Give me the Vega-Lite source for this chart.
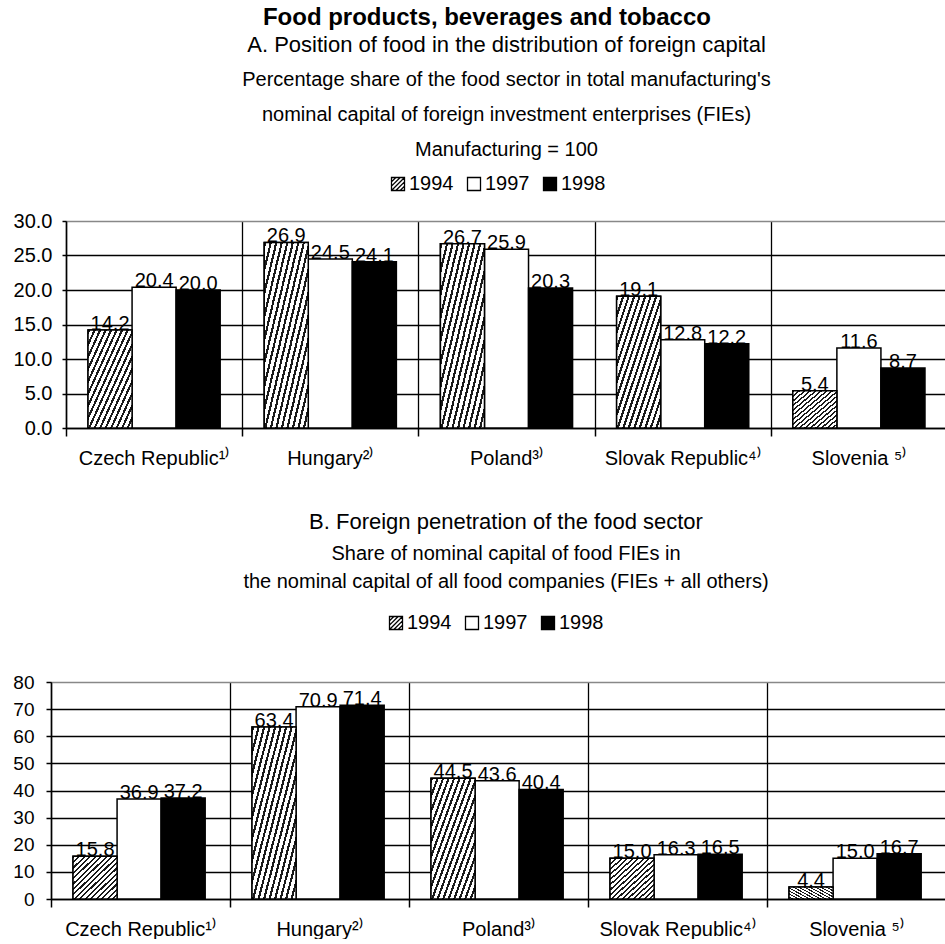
{
  "$schema": "https://vega.github.io/schema/vega-lite/v6.json",
  "padding": {"left": 12, "top": 6, "right": 0, "bottom": 0},
  "background": "white",
  "title": {
    "text": "Food products, beverages and tobacco",
    "font": "Liberation Sans, Arial",
    "fontSize": 24,
    "fontWeight": "bold",
    "color": "black",
    "anchor": "middle",
    "offset": 4
  },
  "config": {
    "view": {"stroke": null},
    "font": "Liberation Sans, Arial",
    "axis": {
      "labelFont": "Liberation Sans, Arial",
      "labelColor": "black",
      "domainColor": "black",
      "tickColor": "black",
      "gridColor": "black",
      "domainWidth": 1.5,
      "tickWidth": 1.5,
      "gridWidth": 1.3,
      "gridOpacity": 1,
      "title": null
    },
    "legend": {
      "labelFont": "Liberation Sans, Arial",
      "labelColor": "black",
      "labelFontSize": 20,
      "symbolSize": 169,
      "symbolStrokeColor": "black",
      "symbolStrokeWidth": 1.3,
      "symbolOpacity": 1,
      "labelOffset": 1,
      "columnPadding": 10,
      "title": null
    }
  },
  "datasets": {
    "capital_share": [
      {"country": "Czech Republic¹⁾", "year": "1994", "value": 14.2},
      {"country": "Czech Republic¹⁾", "year": "1997", "value": 20.4},
      {"country": "Czech Republic¹⁾", "year": "1998", "value": 20.0},
      {"country": "Hungary²⁾", "year": "1994", "value": 26.9},
      {"country": "Hungary²⁾", "year": "1997", "value": 24.5},
      {"country": "Hungary²⁾", "year": "1998", "value": 24.1},
      {"country": "Poland³⁾", "year": "1994", "value": 26.7},
      {"country": "Poland³⁾", "year": "1997", "value": 25.9},
      {"country": "Poland³⁾", "year": "1998", "value": 20.3},
      {"country": "Slovak Republic⁴⁾", "year": "1994", "value": 19.1},
      {"country": "Slovak Republic⁴⁾", "year": "1997", "value": 12.8},
      {"country": "Slovak Republic⁴⁾", "year": "1998", "value": 12.2},
      {"country": "Slovenia ⁵⁾", "year": "1994", "value": 5.4},
      {"country": "Slovenia ⁵⁾", "year": "1997", "value": 11.6},
      {"country": "Slovenia ⁵⁾", "year": "1998", "value": 8.7}
    ],
    "penetration": [
      {"country": "Czech Republic¹⁾", "year": "1994", "value": 15.8},
      {"country": "Czech Republic¹⁾", "year": "1997", "value": 36.9},
      {"country": "Czech Republic¹⁾", "year": "1998", "value": 37.2},
      {"country": "Hungary²⁾", "year": "1994", "value": 63.4},
      {"country": "Hungary²⁾", "year": "1997", "value": 70.9},
      {"country": "Hungary²⁾", "year": "1998", "value": 71.4},
      {"country": "Poland³⁾", "year": "1994", "value": 44.5},
      {"country": "Poland³⁾", "year": "1997", "value": 43.6},
      {"country": "Poland³⁾", "year": "1998", "value": 40.4},
      {"country": "Slovak Republic⁴⁾", "year": "1994", "value": 15.0},
      {"country": "Slovak Republic⁴⁾", "year": "1997", "value": 16.3},
      {"country": "Slovak Republic⁴⁾", "year": "1998", "value": 16.5},
      {"country": "Slovenia ⁵⁾", "year": "1994", "value": 4.4},
      {"country": "Slovenia ⁵⁾", "year": "1997", "value": 15.0},
      {"country": "Slovenia ⁵⁾", "year": "1998", "value": 16.7}
    ]
  },
  "vconcat": [
    {
      "data": {"name": "capital_share"},
      "width": 881,
      "height": 207,
      "title": {
        "text": "A. Position of food in the distribution of foreign capital",
        "subtitle": [
          "Percentage share of the food sector in total manufacturing's",
          "nominal capital of foreign investment enterprises (FIEs)",
          "Manufacturing = 100"
        ],
        "font": "Liberation Sans, Arial",
        "subtitleFont": "Liberation Sans, Arial",
        "fontSize": 22,
        "fontWeight": "normal",
        "subtitleFontSize": 20,
        "subtitleLineHeight": 35,
        "subtitlePadding": 13,
        "color": "black",
        "subtitleColor": "black",
        "anchor": "middle",
        "offset": 13
      },
      "encoding": {
        "x": {
          "field": "country",
          "type": "nominal",
          "sort": null,
          "scale": {"paddingInner": 0, "paddingOuter": 0},
          "axis": {
            "labelAngle": 0,
            "labelFontSize": 20,
            "tickBand": "extent",
            "tickSize": 8,
            "labelPadding": 12,
            "grid": true
          }
        },
        "xOffset": {
          "field": "year",
          "type": "nominal",
          "scale": {"paddingInner": 0, "paddingOuter": 0.5}
        },
        "y": {
          "field": "value",
          "type": "quantitative",
          "scale": {"domain": [0, 30], "nice": false},
          "axis": {
            "values": [0, 5, 10, 15, 20, 25, 30],
            "format": ".1f",
            "labelFontSize": 20,
            "tickSize": 4,
            "labelPadding": 10,
            "gridColor": {"condition": {"test": "datum.value >= 30", "value": "#888888"}, "value": "black"}
          }
        }
      },
      "layer": [
        {
          "mark": {"type": "bar", "stroke": "black", "strokeWidth": 1.5},
          "encoding": {
            "fill": {"condition": {"test": "datum.year === '1998'", "value": "black"}, "value": "white"}
          }
        },
        {
          "transform": [{"filter": "datum.year === '1994'"}],
          "mark": {"type": "bar", "stroke": "black", "strokeWidth": 1.5,
            "fill": {"gradient": "linear", "x1": 0, "y1": 0, "x2": 1, "y2": 1, "stops": [
              {"offset": 0, "color": "#1a1a1a"}, {"offset": 0.025, "color": "#1a1a1a"}, {"offset": 0.025, "color": "white"}, {"offset": 0.0625, "color": "white"},
              {"offset": 0.0625, "color": "#1a1a1a"}, {"offset": 0.0875, "color": "#1a1a1a"}, {"offset": 0.0875, "color": "white"}, {"offset": 0.125, "color": "white"},
              {"offset": 0.125, "color": "#1a1a1a"}, {"offset": 0.15, "color": "#1a1a1a"}, {"offset": 0.15, "color": "white"}, {"offset": 0.1875, "color": "white"},
              {"offset": 0.1875, "color": "#1a1a1a"}, {"offset": 0.2125, "color": "#1a1a1a"}, {"offset": 0.2125, "color": "white"}, {"offset": 0.25, "color": "white"},
              {"offset": 0.25, "color": "#1a1a1a"}, {"offset": 0.275, "color": "#1a1a1a"}, {"offset": 0.275, "color": "white"}, {"offset": 0.3125, "color": "white"},
              {"offset": 0.3125, "color": "#1a1a1a"}, {"offset": 0.3375, "color": "#1a1a1a"}, {"offset": 0.3375, "color": "white"}, {"offset": 0.375, "color": "white"},
              {"offset": 0.375, "color": "#1a1a1a"}, {"offset": 0.4, "color": "#1a1a1a"}, {"offset": 0.4, "color": "white"}, {"offset": 0.4375, "color": "white"},
              {"offset": 0.4375, "color": "#1a1a1a"}, {"offset": 0.4625, "color": "#1a1a1a"}, {"offset": 0.4625, "color": "white"}, {"offset": 0.5, "color": "white"},
              {"offset": 0.5, "color": "#1a1a1a"}, {"offset": 0.525, "color": "#1a1a1a"}, {"offset": 0.525, "color": "white"}, {"offset": 0.5625, "color": "white"},
              {"offset": 0.5625, "color": "#1a1a1a"}, {"offset": 0.5875, "color": "#1a1a1a"}, {"offset": 0.5875, "color": "white"}, {"offset": 0.625, "color": "white"},
              {"offset": 0.625, "color": "#1a1a1a"}, {"offset": 0.65, "color": "#1a1a1a"}, {"offset": 0.65, "color": "white"}, {"offset": 0.6875, "color": "white"},
              {"offset": 0.6875, "color": "#1a1a1a"}, {"offset": 0.7125, "color": "#1a1a1a"}, {"offset": 0.7125, "color": "white"}, {"offset": 0.75, "color": "white"},
              {"offset": 0.75, "color": "#1a1a1a"}, {"offset": 0.775, "color": "#1a1a1a"}, {"offset": 0.775, "color": "white"}, {"offset": 0.8125, "color": "white"},
              {"offset": 0.8125, "color": "#1a1a1a"}, {"offset": 0.8375, "color": "#1a1a1a"}, {"offset": 0.8375, "color": "white"}, {"offset": 0.875, "color": "white"},
              {"offset": 0.875, "color": "#1a1a1a"}, {"offset": 0.9, "color": "#1a1a1a"}, {"offset": 0.9, "color": "white"}, {"offset": 0.9375, "color": "white"},
              {"offset": 0.9375, "color": "#1a1a1a"}, {"offset": 0.9625, "color": "#1a1a1a"}, {"offset": 0.9625, "color": "white"}, {"offset": 1, "color": "white"}
            ]}
          }
        },
        {
          "mark": {"type": "point", "opacity": 0, "filled": true},
          "encoding": {
            "shape": {
              "field": "year",
              "type": "nominal",
              "scale": {
                "domain": ["1994", "1997", "1998"],
                "range": [
                  "M-1,-1H1V1H-1Z M-1,-0.333L-0.333,-1 M-1,0.333L0.333,-1 M-1,1L1,-1 M-0.333,1L1,-0.333 M0.333,1L1,0.333",
                  "square",
                  "square"
                ]
              },
              "legend": {
                "orient": "none", "direction": "horizontal", "legendX": 322, "legendY": -47,
                "encode": {"symbols": {"update": {"stroke": {"value": "black"}, "strokeWidth": {"value": 1.3}}}}
              }
            },
            "fill": {
              "field": "year",
              "type": "nominal",
              "scale": {"domain": ["1994", "1997", "1998"], "range": ["white", "white", "black"]},
              "legend": {
                "orient": "none", "direction": "horizontal", "legendX": 322, "legendY": -47,
                "encode": {"symbols": {"update": {"stroke": {"value": "black"}, "strokeWidth": {"value": 1.3}}}}
              }
            }
          }
        },
        {
          "mark": {"type": "text", "fontSize": 20, "baseline": "alphabetic", "dy": 0, "color": "black"},
          "encoding": {"text": {"field": "value", "type": "quantitative", "format": ".1f"}}
        }
      ]
    },
    {
      "data": {"name": "penetration"},
      "width": 880,
      "height": 217,
      "title": {
        "text": "B. Foreign penetration of the food sector",
        "subtitle": [
          "Share of nominal capital of food FIEs in",
          "the nominal capital of all food companies (FIEs + all others)"
        ],
        "font": "Liberation Sans, Arial",
        "subtitleFont": "Liberation Sans, Arial",
        "fontSize": 22,
        "fontWeight": "normal",
        "subtitleFontSize": 20,
        "subtitleLineHeight": 28,
        "subtitlePadding": 10,
        "color": "black",
        "subtitleColor": "black",
        "anchor": "middle",
        "offset": 20
      },
      "encoding": {
        "x": {
          "field": "country",
          "type": "nominal",
          "sort": null,
          "scale": {"paddingInner": 0, "paddingOuter": 0, "rangeMin": -15},
          "axis": {
            "labelAngle": 0,
            "labelFontSize": 20,
            "tickBand": "extent",
            "tickSize": 8,
            "labelPadding": 12,
            "grid": true
          }
        },
        "xOffset": {
          "field": "year",
          "type": "nominal",
          "scale": {"paddingInner": 0, "paddingOuter": 0.5}
        },
        "y": {
          "field": "value",
          "type": "quantitative",
          "scale": {"domain": [0, 80], "nice": false},
          "axis": {
            "values": [0, 10, 20, 30, 40, 50, 60, 70, 80],
            "format": "d",
            "offset": 15,
            "labelFontSize": 19,
            "tickSize": 5,
            "labelPadding": 12,
            "gridColor": {"condition": {"test": "datum.value >= 80", "value": "#888888"}, "value": "black"}
          }
        }
      },
      "layer": [
        {
          "mark": {"type": "bar", "stroke": "black", "strokeWidth": 1.5},
          "encoding": {
            "fill": {"condition": {"test": "datum.year === '1998'", "value": "black"}, "value": "white"}
          }
        },
        {
          "transform": [{"filter": "datum.year === '1994'"}],
          "mark": {"type": "bar", "stroke": "black", "strokeWidth": 1.5,
            "fill": {"gradient": "linear", "x1": 0, "y1": 0, "x2": 1, "y2": 1, "stops": [
              {"offset": 0, "color": "#1a1a1a"}, {"offset": 0.025, "color": "#1a1a1a"}, {"offset": 0.025, "color": "white"}, {"offset": 0.0625, "color": "white"},
              {"offset": 0.0625, "color": "#1a1a1a"}, {"offset": 0.0875, "color": "#1a1a1a"}, {"offset": 0.0875, "color": "white"}, {"offset": 0.125, "color": "white"},
              {"offset": 0.125, "color": "#1a1a1a"}, {"offset": 0.15, "color": "#1a1a1a"}, {"offset": 0.15, "color": "white"}, {"offset": 0.1875, "color": "white"},
              {"offset": 0.1875, "color": "#1a1a1a"}, {"offset": 0.2125, "color": "#1a1a1a"}, {"offset": 0.2125, "color": "white"}, {"offset": 0.25, "color": "white"},
              {"offset": 0.25, "color": "#1a1a1a"}, {"offset": 0.275, "color": "#1a1a1a"}, {"offset": 0.275, "color": "white"}, {"offset": 0.3125, "color": "white"},
              {"offset": 0.3125, "color": "#1a1a1a"}, {"offset": 0.3375, "color": "#1a1a1a"}, {"offset": 0.3375, "color": "white"}, {"offset": 0.375, "color": "white"},
              {"offset": 0.375, "color": "#1a1a1a"}, {"offset": 0.4, "color": "#1a1a1a"}, {"offset": 0.4, "color": "white"}, {"offset": 0.4375, "color": "white"},
              {"offset": 0.4375, "color": "#1a1a1a"}, {"offset": 0.4625, "color": "#1a1a1a"}, {"offset": 0.4625, "color": "white"}, {"offset": 0.5, "color": "white"},
              {"offset": 0.5, "color": "#1a1a1a"}, {"offset": 0.525, "color": "#1a1a1a"}, {"offset": 0.525, "color": "white"}, {"offset": 0.5625, "color": "white"},
              {"offset": 0.5625, "color": "#1a1a1a"}, {"offset": 0.5875, "color": "#1a1a1a"}, {"offset": 0.5875, "color": "white"}, {"offset": 0.625, "color": "white"},
              {"offset": 0.625, "color": "#1a1a1a"}, {"offset": 0.65, "color": "#1a1a1a"}, {"offset": 0.65, "color": "white"}, {"offset": 0.6875, "color": "white"},
              {"offset": 0.6875, "color": "#1a1a1a"}, {"offset": 0.7125, "color": "#1a1a1a"}, {"offset": 0.7125, "color": "white"}, {"offset": 0.75, "color": "white"},
              {"offset": 0.75, "color": "#1a1a1a"}, {"offset": 0.775, "color": "#1a1a1a"}, {"offset": 0.775, "color": "white"}, {"offset": 0.8125, "color": "white"},
              {"offset": 0.8125, "color": "#1a1a1a"}, {"offset": 0.8375, "color": "#1a1a1a"}, {"offset": 0.8375, "color": "white"}, {"offset": 0.875, "color": "white"},
              {"offset": 0.875, "color": "#1a1a1a"}, {"offset": 0.9, "color": "#1a1a1a"}, {"offset": 0.9, "color": "white"}, {"offset": 0.9375, "color": "white"},
              {"offset": 0.9375, "color": "#1a1a1a"}, {"offset": 0.9625, "color": "#1a1a1a"}, {"offset": 0.9625, "color": "white"}, {"offset": 1, "color": "white"}
            ]}
          }
        },
        {
          "mark": {"type": "point", "opacity": 0, "filled": true},
          "encoding": {
            "shape": {
              "field": "year",
              "type": "nominal",
              "scale": {
                "domain": ["1994", "1997", "1998"],
                "range": [
                  "M-1,-1H1V1H-1Z M-1,-0.333L-0.333,-1 M-1,0.333L0.333,-1 M-1,1L1,-1 M-0.333,1L1,-0.333 M0.333,1L1,0.333",
                  "square",
                  "square"
                ]
              },
              "legend": {
                "orient": "none", "direction": "horizontal", "legendX": 320, "legendY": -69,
                "encode": {"symbols": {"update": {"stroke": {"value": "black"}, "strokeWidth": {"value": 1.3}}}}
              }
            },
            "fill": {
              "field": "year",
              "type": "nominal",
              "scale": {"domain": ["1994", "1997", "1998"], "range": ["white", "white", "black"]},
              "legend": {
                "orient": "none", "direction": "horizontal", "legendX": 320, "legendY": -69,
                "encode": {"symbols": {"update": {"stroke": {"value": "black"}, "strokeWidth": {"value": 1.3}}}}
              }
            }
          }
        },
        {
          "mark": {"type": "text", "fontSize": 20, "baseline": "alphabetic", "dy": 0, "color": "black"},
          "encoding": {"text": {"field": "value", "type": "quantitative", "format": ".1f"}}
        }
      ]
    }
  ],
  "spacing": 43,
  "resolve": {
    "scale": {"shape": "independent", "fill": "independent"},
    "legend": {"shape": "independent", "fill": "independent"}
  }
}
